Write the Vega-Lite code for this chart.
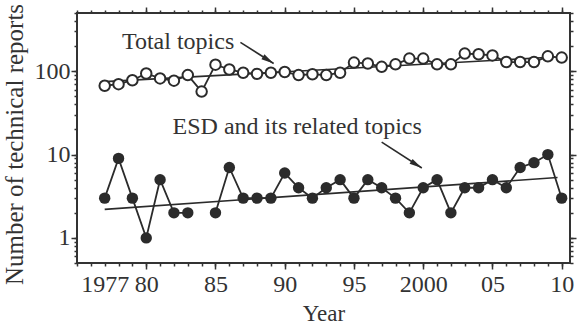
{
  "$schema": "https://vega.github.io/schema/vega-lite/v6.json",
  "width": 493,
  "height": 250,
  "autosize": {"type": "none"},
  "padding": {"left": 77, "top": 13, "right": 9, "bottom": 64},
  "background": "white",
  "config": {"view": {"stroke": "#333333", "strokeWidth": 2}, "font": "Liberation Serif", "axis": {"ticks": true, "tickOpacity": 1, "tickColor": "#333333", "tickWidth": 1.5}},
  "datasets": {
    "reports": [
      {"year": 1977, "series": "Total", "count": 67, "seg": 1},
      {"year": 1978, "series": "Total", "count": 70, "seg": 1},
      {"year": 1979, "series": "Total", "count": 78, "seg": 1},
      {"year": 1980, "series": "Total", "count": 94, "seg": 1},
      {"year": 1981, "series": "Total", "count": 82, "seg": 1},
      {"year": 1982, "series": "Total", "count": 77, "seg": 1},
      {"year": 1983, "series": "Total", "count": 90, "seg": 1},
      {"year": 1984, "series": "Total", "count": 57, "seg": 1},
      {"year": 1985, "series": "Total", "count": 120, "seg": 1},
      {"year": 1986, "series": "Total", "count": 105, "seg": 1},
      {"year": 1987, "series": "Total", "count": 96, "seg": 1},
      {"year": 1988, "series": "Total", "count": 93, "seg": 1},
      {"year": 1989, "series": "Total", "count": 96, "seg": 1},
      {"year": 1990, "series": "Total", "count": 98, "seg": 1},
      {"year": 1991, "series": "Total", "count": 90, "seg": 1},
      {"year": 1992, "series": "Total", "count": 92, "seg": 1},
      {"year": 1993, "series": "Total", "count": 90, "seg": 1},
      {"year": 1994, "series": "Total", "count": 96, "seg": 1},
      {"year": 1995, "series": "Total", "count": 127, "seg": 1},
      {"year": 1996, "series": "Total", "count": 124, "seg": 1},
      {"year": 1997, "series": "Total", "count": 113, "seg": 1},
      {"year": 1998, "series": "Total", "count": 121, "seg": 1},
      {"year": 1999, "series": "Total", "count": 142, "seg": 1},
      {"year": 2000, "series": "Total", "count": 142, "seg": 1},
      {"year": 2001, "series": "Total", "count": 121, "seg": 1},
      {"year": 2002, "series": "Total", "count": 121, "seg": 1},
      {"year": 2003, "series": "Total", "count": 163, "seg": 1},
      {"year": 2004, "series": "Total", "count": 160, "seg": 1},
      {"year": 2005, "series": "Total", "count": 155, "seg": 1},
      {"year": 2006, "series": "Total", "count": 129, "seg": 1},
      {"year": 2007, "series": "Total", "count": 129, "seg": 1},
      {"year": 2008, "series": "Total", "count": 129, "seg": 1},
      {"year": 2009, "series": "Total", "count": 151, "seg": 1},
      {"year": 2010, "series": "Total", "count": 146, "seg": 1},
      {"year": 1977, "series": "ESD", "count": 3, "seg": 1},
      {"year": 1978, "series": "ESD", "count": 9, "seg": 1},
      {"year": 1979, "series": "ESD", "count": 3, "seg": 1},
      {"year": 1980, "series": "ESD", "count": 1, "seg": 1},
      {"year": 1981, "series": "ESD", "count": 5, "seg": 1},
      {"year": 1982, "series": "ESD", "count": 2, "seg": 1},
      {"year": 1983, "series": "ESD", "count": 2, "seg": 1},
      {"year": 1985, "series": "ESD", "count": 2, "seg": 2},
      {"year": 1986, "series": "ESD", "count": 7, "seg": 2},
      {"year": 1987, "series": "ESD", "count": 3, "seg": 2},
      {"year": 1988, "series": "ESD", "count": 3, "seg": 2},
      {"year": 1989, "series": "ESD", "count": 3, "seg": 2},
      {"year": 1990, "series": "ESD", "count": 6, "seg": 2},
      {"year": 1991, "series": "ESD", "count": 4, "seg": 2},
      {"year": 1992, "series": "ESD", "count": 3, "seg": 2},
      {"year": 1993, "series": "ESD", "count": 4, "seg": 2},
      {"year": 1994, "series": "ESD", "count": 5, "seg": 2},
      {"year": 1995, "series": "ESD", "count": 3, "seg": 2},
      {"year": 1996, "series": "ESD", "count": 5, "seg": 2},
      {"year": 1997, "series": "ESD", "count": 4, "seg": 2},
      {"year": 1998, "series": "ESD", "count": 3, "seg": 2},
      {"year": 1999, "series": "ESD", "count": 2, "seg": 2},
      {"year": 2000, "series": "ESD", "count": 4, "seg": 2},
      {"year": 2001, "series": "ESD", "count": 5, "seg": 2},
      {"year": 2002, "series": "ESD", "count": 2, "seg": 2},
      {"year": 2003, "series": "ESD", "count": 4, "seg": 2},
      {"year": 2004, "series": "ESD", "count": 4, "seg": 2},
      {"year": 2005, "series": "ESD", "count": 5, "seg": 2},
      {"year": 2006, "series": "ESD", "count": 4, "seg": 2},
      {"year": 2007, "series": "ESD", "count": 7, "seg": 2},
      {"year": 2008, "series": "ESD", "count": 8, "seg": 2},
      {"year": 2009, "series": "ESD", "count": 10, "seg": 2},
      {"year": 2010, "series": "ESD", "count": 3, "seg": 2}
    ],
    "trend": [
      {"series": "Total", "year": 1977, "count": 75},
      {"series": "Total", "year": 2009.5, "count": 148},
      {"series": "ESD", "year": 1977, "count": 2.2},
      {"series": "ESD", "year": 2009.7, "count": 5.3}
    ],
    "labels": [
      {"label": "Total topics", "year": 1982.3, "count": 222},
      {"label": "ESD and its related topics", "year": 1990.9, "count": 21.5}
    ],
    "arrows": [
      {"arrow": "Total", "ord": 1, "year": 1986.8, "count": 222, "tip": false},
      {"arrow": "Total", "ord": 2, "year": 1989.2, "count": 124, "tip": true},
      {"arrow": "ESD", "ord": 1, "year": 1997.0, "count": 14.1, "tip": false},
      {"arrow": "ESD", "ord": 2, "year": 1999.9, "count": 6.9, "tip": true}
    ]
  },
  "layer": [
    {
      "data": {"name": "trend"},
      "mark": {"type": "line", "color": "#2b2b2b", "strokeWidth": 1.6},
      "encoding": {
        "x": {"field": "year", "type": "quantitative", "scale": {"domain": [1975, 2010.6], "nice": false, "zero": false}, "axis": null},
        "y": {"field": "count", "type": "quantitative", "scale": {"type": "log", "domain": [0.5, 500], "nice": false}, "axis": null},
        "detail": {"field": "series"}
      }
    },
    {
      "data": {"name": "reports"},
      "transform": [{"filter": "datum.series == 'Total'"}],
      "mark": {"type": "line", "color": "#2b2b2b", "strokeWidth": 1.8},
      "encoding": {
        "x": {
          "field": "year", "type": "quantitative",
          "scale": {"domain": [1975, 2010.6], "nice": false, "zero": false},
          "axis": {
            "orient": "bottom",
            "values": [1975, 1976, 1977, 1978, 1979, 1980, 1981, 1982, 1983, 1984, 1985, 1986, 1987, 1988, 1989, 1990, 1991, 1992, 1993, 1994, 1995, 1996, 1997, 1998, 1999, 2000, 2001, 2002, 2003, 2004, 2005, 2006, 2007, 2008, 2009, 2010],
            "labelExpr": "(datum.value == 1977 || datum.value == 2000) ? ('' + datum.value) : ((datum.value % 5 == 0 && datum.value >= 1980) ? substring('' + datum.value, 2) : '')",
            "ticks": true, "tickSize": 3, "tickOpacity": 1,
            "tickColor": "#333333", "tickWidth": 1.5,
            "domain": false, "grid": false,
            "labelFont": "Liberation Serif", "labelFontSize": 24, "labelColor": "#333333",
            "labelPadding": 6, "labelOverlap": false, "labelFlush": false,
            "title": "Year", "titleFont": "Liberation Serif", "titleFontSize": 23, "titleFontWeight": "normal", "titleColor": "#333333", "titlePadding": 6
          }
        },
        "y": {
          "field": "count", "type": "quantitative",
          "scale": {"type": "log", "domain": [0.5, 500], "nice": false},
          "axis": {
            "orient": "left",
            "values": [0.5, 0.6, 0.7, 0.8, 0.9, 1, 2, 3, 4, 5, 6, 7, 8, 9, 10, 20, 30, 40, 50, 60, 70, 80, 90, 100, 200, 300, 400, 500],
            "labelExpr": "(datum.value == 1 || datum.value == 10 || datum.value == 100) ? ('' + datum.value) : ''",
            "ticks": true, "tickSize": 3, "tickOpacity": 1,
            "tickColor": "#333333", "tickWidth": 1.5,
            "domain": false, "grid": false,
            "labelFont": "Liberation Serif", "labelFontSize": 24, "labelColor": "#333333",
            "labelPadding": 4, "labelOverlap": false, "labelFlush": false,
            "title": "Number of technical reports", "titleFont": "Liberation Serif", "titleFontSize": 25, "titleFontWeight": "normal", "titleColor": "#333333", "titlePadding": 7, "titleY": 131
          }
        }
      }
    },
    {
      "data": {"name": "reports"},
      "transform": [{"filter": "datum.series == 'ESD'"}],
      "mark": {"type": "line", "color": "#2b2b2b", "strokeWidth": 1.8},
      "encoding": {
        "x": {
          "field": "year", "type": "quantitative",
          "scale": {"domain": [1975, 2010.6], "nice": false, "zero": false},
          "axis": {"orient": "bottom", "values": [1980, 1985, 1990, 1995, 2000, 2005, 2010], "labels": false, "ticks": true, "tickSize": 6, "tickOpacity": 1, "tickColor": "#333333", "tickWidth": 1.5, "domain": false, "grid": false, "title": null}
        },
        "y": {
          "field": "count", "type": "quantitative",
          "scale": {"type": "log", "domain": [0.5, 500], "nice": false},
          "axis": {"orient": "left", "values": [1, 10, 100], "labels": false, "ticks": true, "tickSize": 6, "tickOpacity": 1, "tickColor": "#333333", "tickWidth": 1.5, "domain": false, "grid": false, "title": null}
        },
        "detail": {"field": "seg"}
      }
    },
    {
      "data": {"name": "reports"},
      "transform": [{"filter": "datum.series == 'Total'"}],
      "mark": {"type": "point", "shape": "circle", "filled": false, "fill": "white", "fillOpacity": 1, "stroke": "#2b2b2b", "strokeWidth": 2, "size": 110, "opacity": 1},
      "encoding": {
        "x": {
          "field": "year", "type": "quantitative",
          "scale": {"domain": [1975, 2010.6], "nice": false, "zero": false},
          "axis": {
            "orient": "top",
            "values": [1975, 1976, 1977, 1978, 1979, 1980, 1981, 1982, 1983, 1984, 1985, 1986, 1987, 1988, 1989, 1990, 1991, 1992, 1993, 1994, 1995, 1996, 1997, 1998, 1999, 2000, 2001, 2002, 2003, 2004, 2005, 2006, 2007, 2008, 2009, 2010],
            "labels": false, "ticks": true, "tickSize": 3, "tickOpacity": 1, "tickColor": "#333333", "tickWidth": 1.5, "domain": false, "grid": false, "title": null
          }
        },
        "y": {
          "field": "count", "type": "quantitative",
          "scale": {"type": "log", "domain": [0.5, 500], "nice": false},
          "axis": {
            "orient": "right",
            "values": [0.5, 0.6, 0.7, 0.8, 0.9, 1, 2, 3, 4, 5, 6, 7, 8, 9, 10, 20, 30, 40, 50, 60, 70, 80, 90, 100, 200, 300, 400, 500],
            "labels": false, "ticks": true, "tickSize": 3, "tickOpacity": 1, "tickColor": "#333333", "tickWidth": 1.5, "domain": false, "grid": false, "title": null
          }
        }
      }
    },
    {
      "data": {"name": "reports"},
      "transform": [{"filter": "datum.series == 'ESD'"}],
      "mark": {"type": "point", "shape": "circle", "filled": true, "color": "#2b2b2b", "size": 130, "opacity": 1},
      "encoding": {
        "x": {
          "field": "year", "type": "quantitative",
          "scale": {"domain": [1975, 2010.6], "nice": false, "zero": false},
          "axis": {"orient": "top", "values": [1980, 1985, 1990, 1995, 2000, 2005, 2010], "labels": false, "ticks": true, "tickSize": 6, "tickOpacity": 1, "tickColor": "#333333", "tickWidth": 1.5, "domain": false, "grid": false, "title": null}
        },
        "y": {
          "field": "count", "type": "quantitative",
          "scale": {"type": "log", "domain": [0.5, 500], "nice": false},
          "axis": {"orient": "right", "values": [1, 10, 100], "labels": false, "ticks": true, "tickSize": 6, "tickOpacity": 1, "tickColor": "#333333", "tickWidth": 1.5, "domain": false, "grid": false, "title": null}
        }
      }
    },
    {
      "data": {"name": "labels"},
      "mark": {"type": "text", "font": "Liberation Serif", "fontSize": 24, "color": "#333333", "align": "center", "baseline": "middle"},
      "encoding": {
        "x": {"field": "year", "type": "quantitative", "scale": {"domain": [1975, 2010.6], "nice": false, "zero": false}, "axis": null},
        "y": {"field": "count", "type": "quantitative", "scale": {"type": "log", "domain": [0.5, 500], "nice": false}, "axis": null},
        "text": {"field": "label"}
      }
    },
    {
      "data": {"name": "arrows"},
      "mark": {"type": "line", "color": "#2b2b2b", "strokeWidth": 1.6},
      "encoding": {
        "x": {"field": "year", "type": "quantitative", "scale": {"domain": [1975, 2010.6], "nice": false, "zero": false}, "axis": null},
        "y": {"field": "count", "type": "quantitative", "scale": {"type": "log", "domain": [0.5, 500], "nice": false}, "axis": null},
        "detail": {"field": "arrow"},
        "order": {"field": "ord"}
      }
    },
    {
      "data": {"name": "arrows"},
      "transform": [{"filter": "datum.tip"}],
      "mark": {"type": "point", "shape": "M0,0L0.45,2L-0.45,2Z", "filled": true, "color": "#2b2b2b", "size": 160, "angle": 122, "opacity": 1},
      "encoding": {
        "x": {"field": "year", "type": "quantitative", "scale": {"domain": [1975, 2010.6], "nice": false, "zero": false}, "axis": null},
        "y": {"field": "count", "type": "quantitative", "scale": {"type": "log", "domain": [0.5, 500], "nice": false}, "axis": null}
      }
    }
  ],
  "resolve": {"axis": {"x": "independent", "y": "independent"}}
}
